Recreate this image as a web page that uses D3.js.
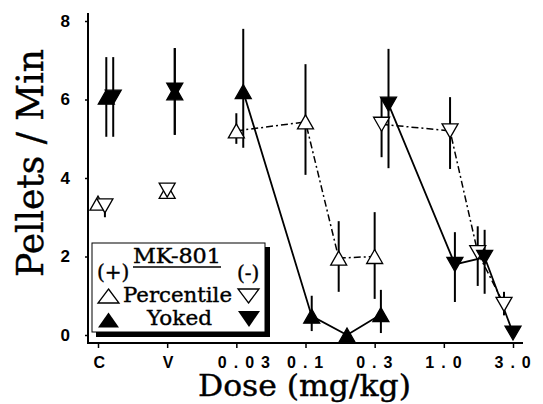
<!DOCTYPE html>
<html>
<head>
<meta charset="utf-8">
<script src="https://cdn.jsdelivr.net/npm/d3@7"></script>
<style>
    body { margin: 0; background: #fff; }
    .serif { font-family: "DejaVu Serif", serif; stroke: #000; stroke-width: 0.4px; }
</style>
</head>
<body>
<div id="chart"></div>
<script>
// x positions are in category units: 0 = C, 1 = V, 2 = 0.03, 3 = 0.1, 4 = 0.3, 5 = 1.0, 6 = 3.0
var xTickLabels = ["C", "V", "0.03", "0.1", "0.3", "1.0", "3.0"];
var yTickValues = [0, 2, 4, 6, 8];

// Percentile, MK-801 (+)  (open up triangles, dash-dot line)
var percPlusX  = [0, 1, 2, 3, 3.48, 4];
var percPlusY  = [3.36, 3.66, 5.2, 5.43, 1.96, 2.0];
var percPlusHi = [3.5, 3.66, 5.65, 6.9, 2.9, 3.13];
var percPlusLo = [3.25, 3.66, 4.87, 4.08, 1.1, 0.92];

// Percentile, MK-801 (-)  (open down triangles, dash-dot line)
var percMinusX  = [0.1, 1, 4.1, 5.09, 5.49, 5.87];
var percMinusY  = [3.29, 3.69, 5.37, 5.2, 2.1, 0.78];
var percMinusHi = [3.29, 3.69, 6.04, 6.06, 2.77, 1.1];
var percMinusLo = [3.0, 3.69, 4.53, 4.23, 1.25, 0.5];

// Yoked, MK-801 (+)  (filled up triangles, solid line)
var yokedPlusX  = [0.12, 1.11, 2.1, 3.09, 3.6, 4.09];
var yokedPlusY  = [6.06, 6.17, 6.2, 0.48, 0.0, 0.52];
var yokedPlusHi = [7.08, 7.31, 7.8, 1.0, 0.0, 1.15];
var yokedPlusLo = [5.05, 5.1, 4.77, 0.1, 0.0, 0.05];

// Yoked, MK-801 (-)  (filled down triangles, solid line)
var yokedMinusX  = [0.22, 1.11, 4.2, 5.16, 5.59, 6.0];
var yokedMinusY  = [6.06, 6.24, 5.88, 1.8, 1.98, 0.05];
var yokedMinusHi = [7.08, 7.31, 7.29, 2.62, 2.68, 0.05];
var yokedMinusLo = [5.05, 5.1, 4.25, 0.84, 1.05, 0.05];

// only dose points (from index 2 on) are joined by lines
var lineStart = 2;

function makeSeries(xs, ys, his, los) {
    return xs.map(function (x, i) {
        return {x: x, y: ys[i], hi: his[i], lo: los[i], i: i};
    });
}

var series = [
    {name: "percPlus",  pts: makeSeries(percPlusX, percPlusY, percPlusHi, percPlusLo),     up: true,  filled: false},
    {name: "percMinus", pts: makeSeries(percMinusX, percMinusY, percMinusHi, percMinusLo), up: false, filled: false},
    {name: "yokedPlus", pts: makeSeries(yokedPlusX, yokedPlusY, yokedPlusHi, yokedPlusLo), up: true,  filled: true},
    {name: "yokedMinus", pts: makeSeries(yokedMinusX, yokedMinusY, yokedMinusHi, yokedMinusLo), up: false, filled: true}
];

var width = 543, height = 404;
var svg = d3.select("#chart").append("svg")
    .attr("width", width)
    .attr("height", height);

var x = d3.scaleLinear().domain([0, 6]).range([98, 513]);
var y = d3.scaleLinear().domain([0, 8]).range([335, 21]);

var axisX = 88, axisY = 343;

// axis lines
svg.append("line")
    .attr("x1", axisX).attr("x2", axisX)
    .attr("y1", 13).attr("y2", axisY + 1)
    .attr("stroke", "#000").attr("stroke-width", 2);
svg.append("line")
    .attr("x1", axisX - 1).attr("x2", 523)
    .attr("y1", axisY).attr("y2", axisY)
    .attr("stroke", "#000").attr("stroke-width", 2);

// y ticks
var yAxis = svg.append("g")
    .attr("transform", "translate(" + axisX + ",0)")
    .call(d3.axisLeft(y).tickValues(yTickValues).tickSize(3).tickPadding(15).tickFormat(d3.format("d")));
yAxis.select(".domain").remove();
yAxis.selectAll("line").attr("stroke-width", 1.5);
yAxis.selectAll("text")
    .style("font-family", "'Liberation Sans', Arial, sans-serif")
    .style("font-weight", "bold")
    .style("font-size", "17px")
    .attr("fill", "#000");

// x ticks
var xAxis = svg.append("g")
    .attr("transform", "translate(0," + axisY + ")")
    .call(d3.axisBottom(x).tickValues(d3.range(xTickLabels.length)).tickSize(5).tickFormat(function (d) {
        return xTickLabels[d];
    }));
xAxis.select(".domain").remove();
xAxis.selectAll("line").attr("stroke-width", 1.5);
xAxis.selectAll("text")
    .style("font-family", "'Liberation Sans', Arial, sans-serif")
    .style("font-weight", "bold")
    .style("font-size", "16px")
    .style("letter-spacing", "7px")
    .attr("text-anchor", "start")
    .attr("fill", "#000")
    .attr("y", 25)
    .attr("dy", 0)
    .attr("dx", function (d) { return xTickLabels[d].length > 1 ? -19 : -5; });

// axis titles
svg.append("text")
    .attr("class", "serif")
    .attr("x", 198)
    .attr("y", 396)
    .attr("font-size", 30)
    .attr("textLength", 213)
    .attr("lengthAdjust", "spacingAndGlyphs")
    .text("Dose (mg/kg)");

svg.append("text")
    .attr("class", "serif")
    .attr("transform", "translate(43,277) rotate(-90)")
    .attr("font-size", 37)
    .attr("textLength", 228)
    .attr("lengthAdjust", "spacingAndGlyphs")
    .text("Pellets / Min");

// lines
var line = d3.line()
    .x(function (d) { return x(d.x); })
    .y(function (d) { return y(d.y); });

series.forEach(function (s) {
    svg.append("path")
        .datum(s.pts.filter(function (d) { return d.i >= lineStart; }))
        .attr("fill", "none")
        .attr("stroke", "#000")
        .attr("stroke-width", s.filled ? 1.8 : 1.5)
        .attr("stroke-dasharray", s.filled ? null : "7,3,2,3")
        .attr("d", line);
});

// error bars
series.forEach(function (s) {
    svg.append("g").selectAll("line")
        .data(s.pts.filter(function (d) { return d.hi > d.lo; }))
        .enter().append("line")
        .attr("x1", function (d) { return x(d.x); })
        .attr("x2", function (d) { return x(d.x); })
        .attr("y1", function (d) { return y(d.hi); })
        .attr("y2", function (d) { return y(d.lo); })
        .attr("stroke", "#000")
        .attr("stroke-width", 2);
});

function triPath(up, w, h) {
    var hw = w / 2, hh = h / 2;
    if (up) return "M0," + (-hh) + "L" + hw + "," + hh + "L" + (-hw) + "," + hh + "Z";
    return "M0," + hh + "L" + hw + "," + (-hh) + "L" + (-hw) + "," + (-hh) + "Z";
}

// markers
series.forEach(function (s) {
    svg.append("g").selectAll("path")
        .data(s.pts)
        .enter().append("path")
        .attr("transform", function (d) { return "translate(" + x(d.x) + "," + y(d.y) + ")"; })
        .attr("d", triPath(s.up, 16, 14))
        .attr("fill", s.filled ? "#000" : "#fff")
        .attr("stroke", "#000")
        .attr("stroke-width", 1.3)
        .attr("stroke-linejoin", "miter");
});

// legend
var lg = svg.append("g").attr("transform", "translate(92,243)");
lg.append("rect")
    .attr("x", 4).attr("y", 4).attr("width", 174).attr("height", 90)
    .attr("fill", "#000");
lg.append("rect")
    .attr("x", 0).attr("y", 0).attr("width", 173).attr("height", 89)
    .attr("fill", "#fff").attr("stroke", "#000").attr("stroke-width", 1);

lg.append("text").attr("class", "serif")
    .attr("x", 41).attr("y", 20).attr("font-size", 21)
    .attr("textLength", 88).attr("lengthAdjust", "spacingAndGlyphs")
    .text("MK-801");
lg.append("line")
    .attr("x1", 41).attr("x2", 129).attr("y1", 24).attr("y2", 24)
    .attr("stroke", "#000").attr("stroke-width", 1.3);

lg.append("text").attr("class", "serif")
    .attr("x", 5).attr("y", 36).attr("font-size", 20)
    .text("(+)");
lg.append("text").attr("class", "serif")
    .attr("x", 145).attr("y", 37).attr("font-size", 20)
    .text("(-)");

lg.append("path")
    .attr("transform", "translate(16.5,53)")
    .attr("d", triPath(true, 21, 14))
    .attr("fill", "#fff").attr("stroke", "#000").attr("stroke-width", 1.3);
lg.append("text").attr("class", "serif")
    .attr("x", 31).attr("y", 59).attr("font-size", 21)
    .attr("textLength", 109).attr("lengthAdjust", "spacingAndGlyphs")
    .text("Percentile");
lg.append("path")
    .attr("transform", "translate(156.5,53)")
    .attr("d", triPath(false, 21, 14))
    .attr("fill", "#fff").attr("stroke", "#000").attr("stroke-width", 1.3);

lg.append("path")
    .attr("transform", "translate(16.5,77)")
    .attr("d", triPath(true, 21, 15))
    .attr("fill", "#000");
lg.append("text").attr("class", "serif")
    .attr("x", 55).attr("y", 82).attr("font-size", 21)
    .attr("textLength", 65).attr("lengthAdjust", "spacingAndGlyphs")
    .text("Yoked");
lg.append("path")
    .attr("transform", "translate(157,76)")
    .attr("d", triPath(false, 22, 16))
    .attr("fill", "#000");
</script>
</body>
</html>
